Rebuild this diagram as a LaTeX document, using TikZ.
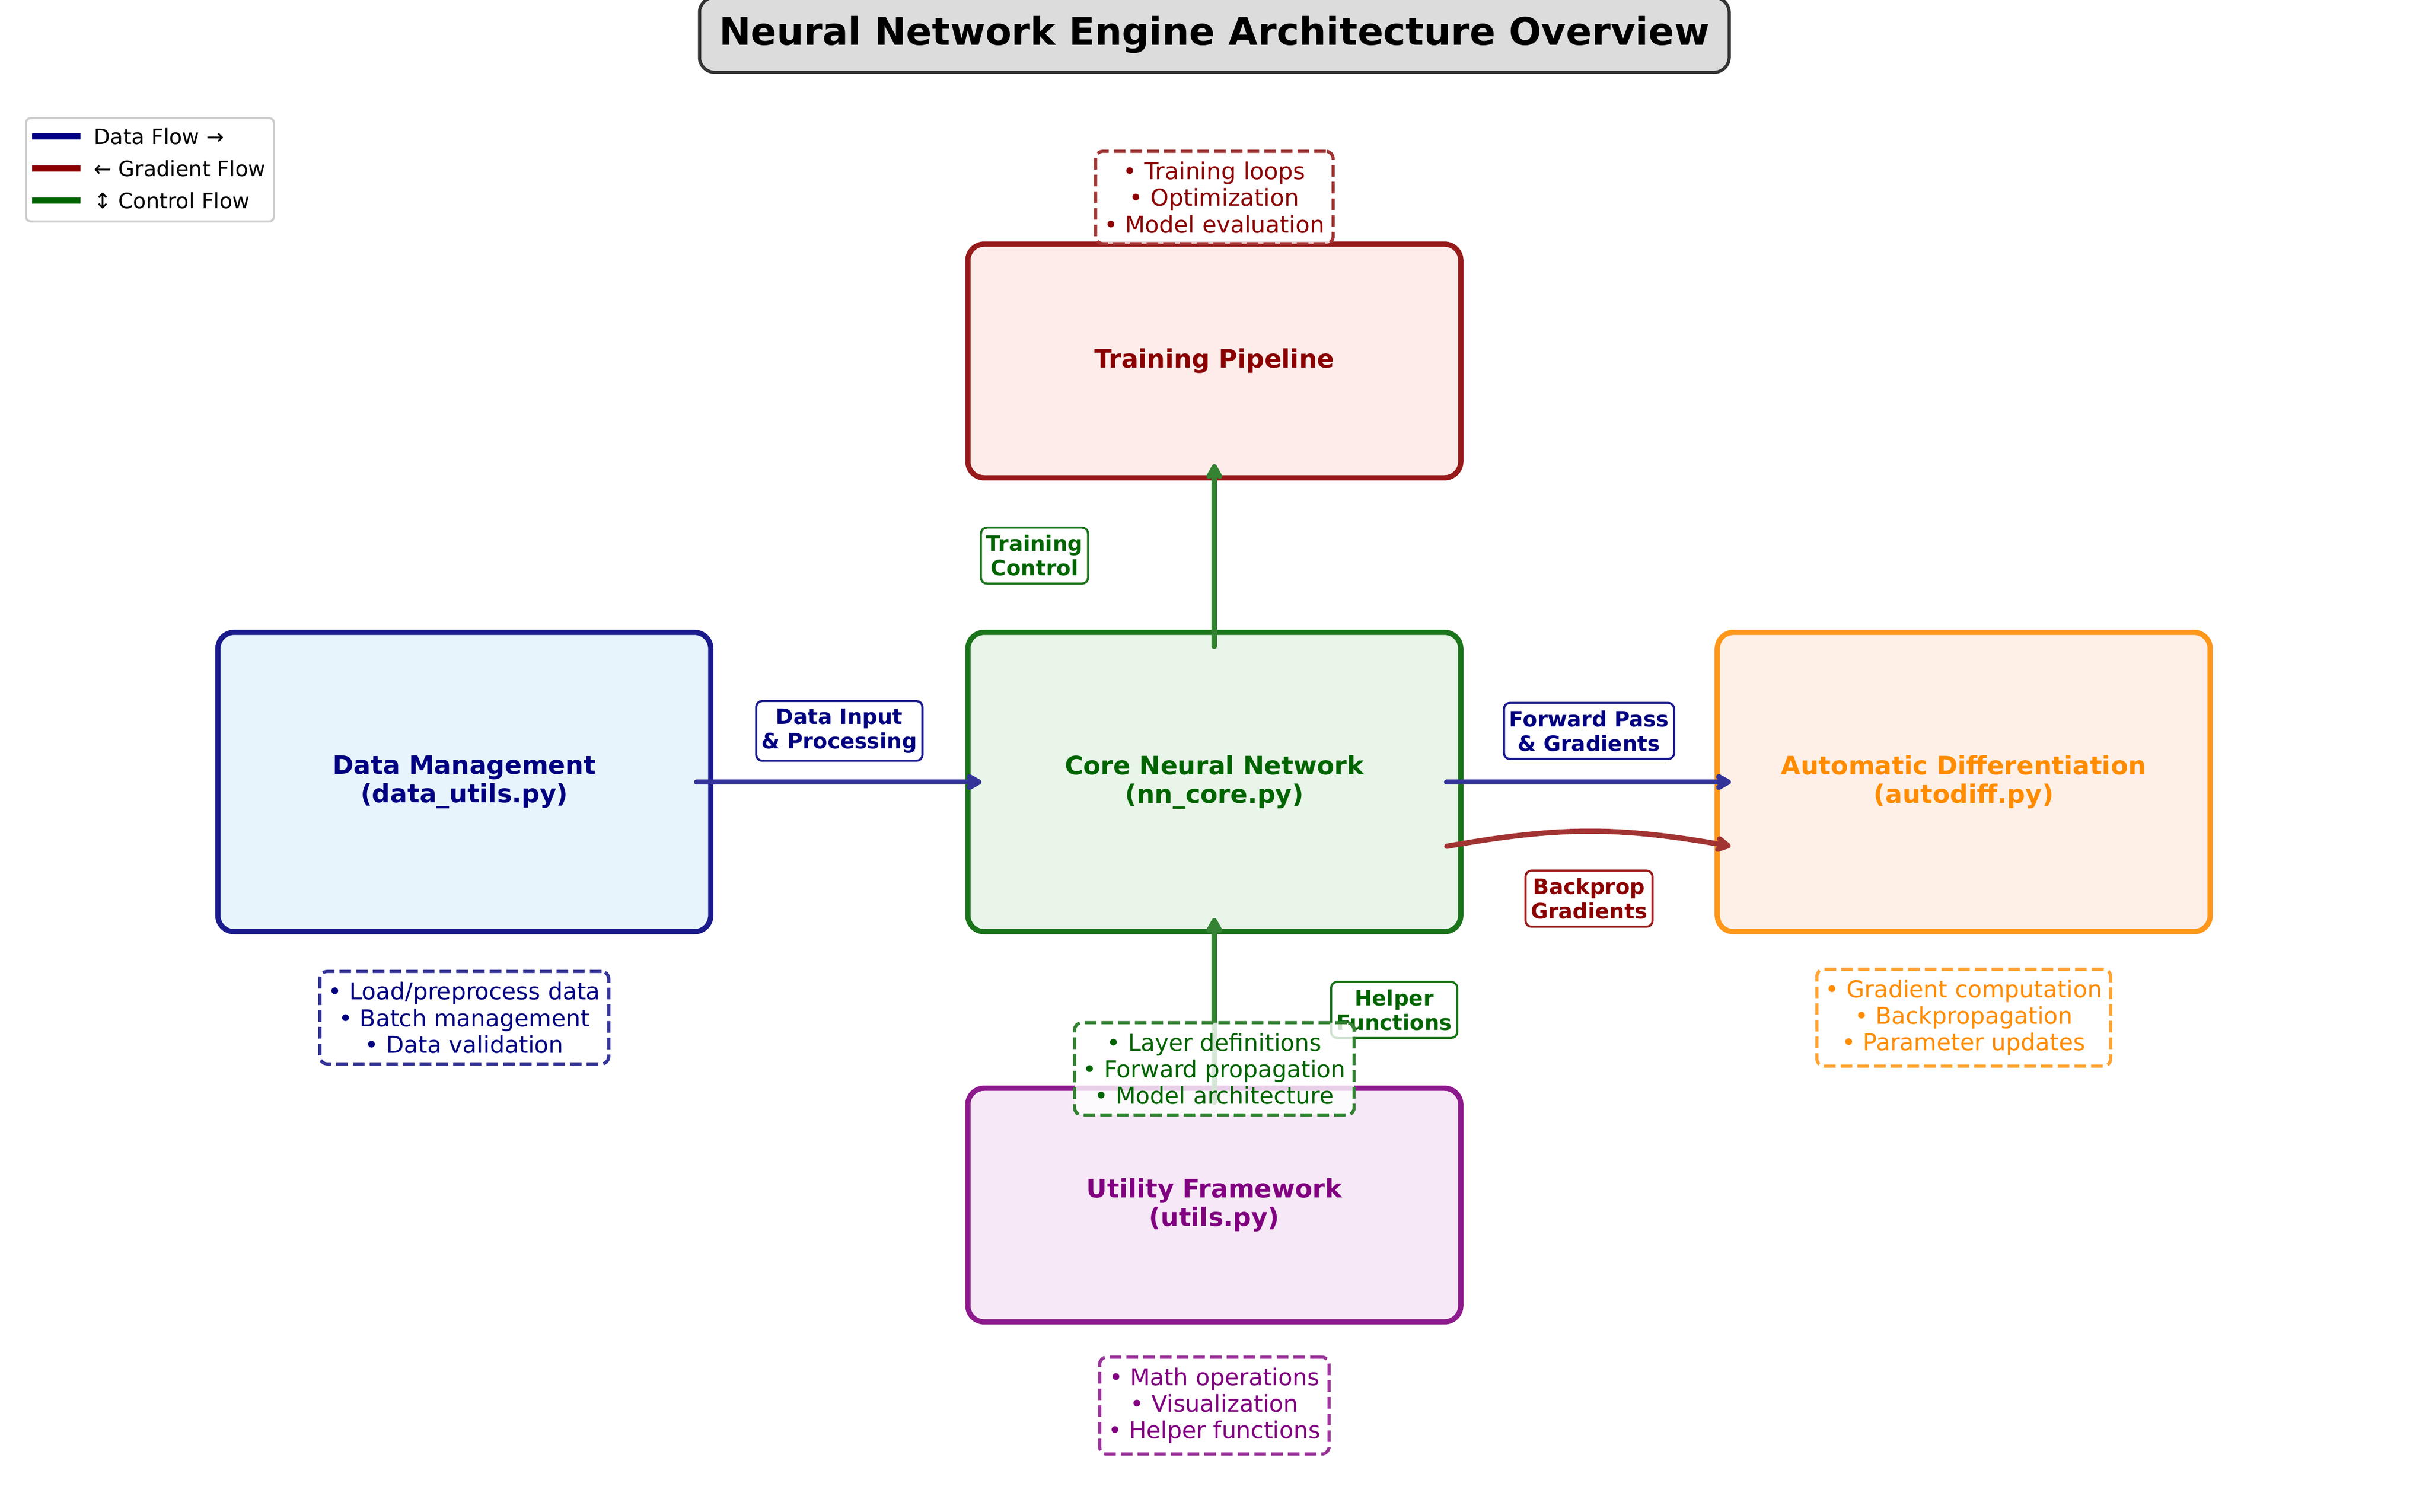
\documentclass[tikz,border=0pt]{standalone}
\usepackage{fontspec}
\setmainfont{DejaVu Sans}
\usetikzlibrary{arrows.meta}
\definecolor{datatext}{HTML}{000080}
\definecolor{dataedge}{HTML}{1A1A8D}
\definecolor{datafill}{HTML}{E8F4FC}
\definecolor{dataline}{HTML}{333399}
\definecolor{coretext}{HTML}{006400}
\definecolor{coreedge}{HTML}{1A741A}
\definecolor{corefill}{HTML}{E8F5E8}
\definecolor{coreline}{HTML}{338333}
\definecolor{traintext}{HTML}{8B0000}
\definecolor{trainedge}{HTML}{971A1A}
\definecolor{trainfill}{HTML}{FDECEA}
\definecolor{trainline}{HTML}{A23333}
\definecolor{autotext}{HTML}{FF8C00}
\definecolor{autoedge}{HTML}{FF971A}
\definecolor{autofill}{HTML}{FEF0E7}
\definecolor{autoline}{HTML}{FFA333}
\definecolor{utiltext}{HTML}{800080}
\definecolor{utiledge}{HTML}{8D1A8D}
\definecolor{utilfill}{HTML}{F6E8F6}
\definecolor{utilline}{HTML}{993399}
\definecolor{titleedge}{HTML}{333333}
\definecolor{titlefill}{HTML}{DCDCDC}
\definecolor{legendedge}{HTML}{CCCCCC}
\begin{document}
    \begin{tikzpicture}[
        mainbox/.style={rectangle, rounded corners=0.27cm, line width=2.5pt, minimum width=8.195cm, minimum height=4.978cm, align=center, font=\fontsize{12}{13.5}\selectfont\bfseries},
        notebox/.style={rectangle, rounded corners=0.12cm, line width=1.5pt, dash pattern=on 5.5pt off 2.4pt, fill=white, fill opacity=0.8, text opacity=1, align=center, inner xsep=4pt, inner ysep=5pt, font=\fontsize{11}{12.6}\selectfont},
        tagbox/.style={rectangle, rounded corners=0.1cm, line width=1pt, fill=white, align=center, inner xsep=2.5pt, inner ysep=3.6pt, font=\fontsize{10}{11.6}\selectfont\bfseries},
        flowarrow/.style={line width=2.5pt, line cap=round, -{Straight Barb[length=4.5pt,width=5pt,round]}, shorten <=-0.28cm, shorten >=-0.27cm},
        legendtext/.style={anchor=west, inner sep=0pt, font=\fontsize{10}{12}\selectfont}]
        \useasboundingbox (0,0) rectangle (40.386,25.146);
        \node[draw=titleedge, fill=titlefill, line width=1.5pt, rounded corners=0.25cm, minimum width=17.12cm, minimum height=1.245cm, font=\fontsize{18}{21}\selectfont\bfseries] (title) at (20.19,24.566) {Neural Network Engine Architecture Overview};
        \node[mainbox, draw=trainedge, fill=trainfill, text=traintext, minimum height=3.886cm] (T) at (20.19,19.143) {Training Pipeline};
        \node[mainbox, draw=dataedge, fill=datafill, text=datatext] (D) at (7.72,12.14) {Data Management\\(data\_utils.py)};
        \node[mainbox, draw=coreedge, fill=corefill, text=coretext] (C) at (20.19,12.14) {Core Neural Network\\(nn\_core.py)};
        \node[mainbox, draw=autoedge, fill=autofill, text=autotext] (A) at (32.65,12.14) {Automatic Differentiation\\(autodiff.py)};
        \node[mainbox, draw=utiledge, fill=utilfill, text=utiltext, minimum height=3.886cm] (U) at (20.19,5.105) {Utility Framework\\(utils.py)};
        \draw[flowarrow, dataline] (D) -- (C);
        \draw[flowarrow, dataline] (C) -- (A);
        \draw[flowarrow, trainline] ([yshift=-1.02cm]C.east) to[bend left=10] ([yshift=-1.02cm]A.west);
        \draw[flowarrow, coreline] (C) -- (T);
        \draw[flowarrow, coreline] (U) -- (C);
        \node[tagbox, draw=dataedge, text=datatext] (DC) at (13.955,12.99) {Data Input\\\& Processing};
        \node[tagbox, draw=dataedge, text=datatext] (CA) at (26.42,12.99) {Forward Pass\\\& Gradients};
        \node[tagbox, draw=trainedge, text=traintext] (CB) at (26.42,10.2) {Backprop\\Gradients};
        \node[tagbox, draw=coreedge, text=coretext] (CT) at (17.2,15.905) {Training\\Control};
        \node[tagbox, draw=coreedge, text=coretext] (UC) at (23.18,8.35) {Helper\\Functions};
        \node[notebox, draw=trainline, text=traintext] (Tx) at (20.19,21.861) {• Training loops\\• Optimization\\• Model evaluation};
        \node[notebox, draw=dataline, text=datatext] (Dx) at (7.72,8.221) {• Load/preprocess data\\• Batch management\\• Data validation};
        \node[notebox, draw=coreline, text=coretext] (Cx) at (20.19,7.37) {• Layer definitions\\• Forward propagation\\• Model architecture};
        \node[notebox, draw=autoline, text=autotext] (Ax) at (32.65,8.221) {• Gradient computation\\• Backpropagation\\• Parameter updates};
        \node[notebox, draw=utilline, text=utiltext] (Ux) at (20.19,1.77) {• Math operations\\• Visualization\\• Helper functions};
        \draw[draw=legendedge, fill=white, line width=1pt, rounded corners=0.08cm] (0.432,21.463) rectangle (4.555,23.182);
        \node[legendtext] (L1) at (1.558,22.876) {Data Flow →};
        \node[legendtext] (L2) at (1.558,22.343) {← Gradient Flow};
        \node[legendtext] (L3) at (1.558,21.809) {↕ Control Flow};
        \draw[line width=3pt, datatext] ([xshift=-0.22cm]L1.west) -- ++(-0.805,0);
        \draw[line width=3pt, traintext] ([xshift=-0.22cm]L2.west) -- ++(-0.805,0);
        \draw[line width=3pt, coretext] ([xshift=-0.22cm]L3.west) -- ++(-0.805,0);
    \end{tikzpicture}
\end{document}
